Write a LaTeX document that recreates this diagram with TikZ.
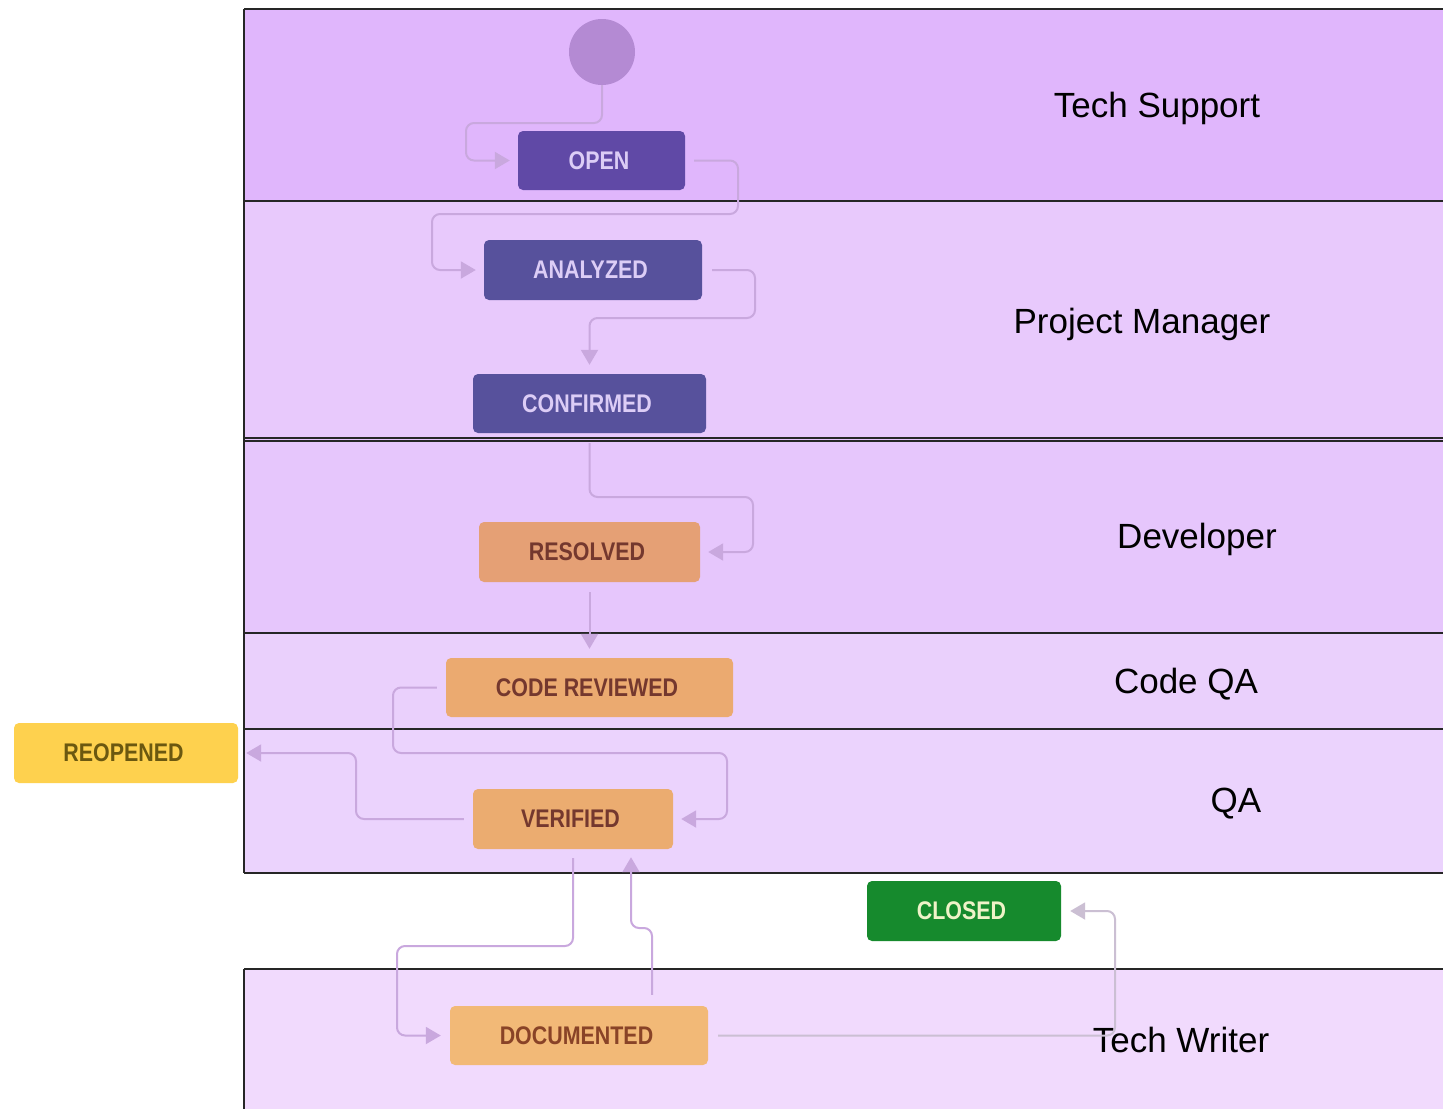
\documentclass[tikz,border=0pt]{standalone}
\usepackage{fontspec}
\setmainfont{Liberation Sans}
\newfontfamily\boxfont[FakeStretch=0.84]{Liberation Sans}
\usetikzlibrary{arrows.meta}
\definecolor{laneA}{HTML}{E0B6FC}
\definecolor{laneB}{HTML}{E8C9FC}
\definecolor{laneC}{HTML}{E6C6FC}
\definecolor{laneD}{HTML}{EAD0FC}
\definecolor{laneE}{HTML}{EBD3FD}
\definecolor{laneF}{HTML}{F1DAFD}
\definecolor{conncol}{HTML}{C9A8DE}
\definecolor{conngray}{HTML}{CBBFD3}
\definecolor{startcol}{HTML}{B48AD3}
\definecolor{openfill}{HTML}{6049A6}
\definecolor{bluefill}{HTML}{57519C}
\definecolor{bluetext}{HTML}{DCCDF6}
\definecolor{resfill}{HTML}{E5A075}
\definecolor{crfill}{HTML}{EBAA70}
\definecolor{verfill}{HTML}{EBAC70}
\definecolor{docfill}{HTML}{F2B977}
\definecolor{browntext}{HTML}{74382E}
\definecolor{reofill}{HTML}{FED14E}
\definecolor{reotext}{HTML}{6B5810}
\definecolor{closefill}{HTML}{168A2D}
\definecolor{closetext}{HTML}{EFF3C8}
\begin{document}
\begin{tikzpicture}[x=1pt,y=-1pt,
  state/.style={rectangle, rounded corners=5pt, inner sep=0pt, font=\boxfont\bfseries\fontsize{25.5}{30}\selectfont, execute at begin node={\hspace*{-5pt}}},
  purplestate/.style={state, fill=bluefill, text=bluetext},
  orangestate/.style={state, text=browntext},
  conn/.style={draw=conncol, line width=2pt, rounded corners=8pt, -{Triangle[length=15pt,width=17pt]}},
  lanelabel/.style={anchor=base, font=\fontsize{35}{42}\selectfont, text=black},
  laneline/.style={draw=black!85, line width=1.3pt}]
\useasboundingbox (0,0) rectangle (1443,1109);
\fill[white] (0,0) rectangle (1443,1109);
% lanes
\fill[laneA] (244,9) rectangle (1443,201);
\fill[laneB] (244,201) rectangle (1443,439);
\fill[laneC] (244,439) rectangle (1443,633);
\fill[laneD] (244,633) rectangle (1443,729);
\fill[laneE] (244,729) rectangle (1443,873);
\fill[laneF] (244,969) rectangle (1443,1109);
\draw[laneline] (244,9) -- (1443,9);
\draw[laneline] (244,201) -- (1443,201);
\draw[laneline] (244,438) -- (1443,438);
\draw[laneline] (244,441) -- (1443,441);
\draw[laneline] (244,633) -- (1443,633);
\draw[laneline] (244,729) -- (1443,729);
\draw[laneline] (244,873) -- (1443,873);
\draw[laneline] (244,969) -- (1443,969);
\draw[laneline] (244,9) -- (244,873);
\draw[laneline] (244,969) -- (244,1109);
% lane labels
\node[lanelabel] (l1) at (1157,117) {Tech Support};
\node[lanelabel] (l2) at (1142,333) {Project Manager};
\node[lanelabel] (l3) at (1197,548) {Developer};
\node[lanelabel] (l4) at (1186,693) {Code QA};
\node[lanelabel] (l5) at (1236,812) {QA};
\node[lanelabel] (l6) at (1181,1052) {Tech Writer};
% states
\node[circle, fill=startcol, minimum size=66pt, inner sep=0pt] (start) at (602,52) {};
\node[state, fill=openfill, text=bluetext, minimum width=167pt, minimum height=59pt] (open) at (601.5,160.5) {OPEN};
\node[purplestate, minimum width=218pt, minimum height=60pt] (analyzed) at (593,270) {ANALYZED};
\node[purplestate, minimum width=233pt, minimum height=59pt] (confirmed) at (589.5,403.5) {CONFIRMED};
\node[orangestate, fill=resfill, minimum width=221pt, minimum height=60pt] (resolved) at (589.5,552) {RESOLVED};
\node[orangestate, fill=crfill, minimum width=287pt, minimum height=59pt] (codereviewed) at (589.5,687.5) {CODE REVIEWED};
\node[state, fill=reofill, text=reotext, minimum width=224pt, minimum height=60pt] (reopened) at (126,753) {REOPENED};
\node[orangestate, fill=verfill, minimum width=200pt, minimum height=60pt] (verified) at (573,819) {VERIFIED};
\node[state, fill=closefill, text=closetext, minimum width=194pt, minimum height=60pt] (closed) at (964,911) {CLOSED};
\node[orangestate, fill=docfill, text=browntext!85!orange, minimum width=258pt, minimum height=59pt] (documented) at (579,1035.5) {DOCUMENTED};
% connectors
\draw[conn] (start.south) |- (466,123) |- ([xshift=-8]open.west);
\draw[conn] ([xshift=9]open.east) -| (738,214) -| (432,270) -- ([xshift=-8]analyzed.west);
\draw[conn] ([xshift=10]analyzed.east) -| (755,318) -| ([yshift=9]confirmed.north);
\draw[conn] ([yshift=-10]confirmed.south) |- (753,497) |- ([xshift=8]resolved.east);
\draw[conn] ([yshift=-10]resolved.south) -- ([yshift=9]codereviewed.north);
\draw[conn] ([xshift=-9]codereviewed.west) -| (393,753) -| (727,819) -- ([xshift=8]verified.east);
\draw[conn] ([xshift=-9]verified.west) -| (356,753) -- ([xshift=8]reopened.east);
\draw[conn] ([yshift=-9]verified.south) |- (397,946) |- ([xshift=-9]documented.west);
\draw[conn] ([xshift=73,yshift=11]documented.north) |- (631,928) -- ([xshift=58,yshift=-8]verified.south);
\draw[conn, draw=conngray] ([xshift=10]documented.east) -| (1115,911) -- ([xshift=9]closed.east);
\end{tikzpicture}
\end{document}
